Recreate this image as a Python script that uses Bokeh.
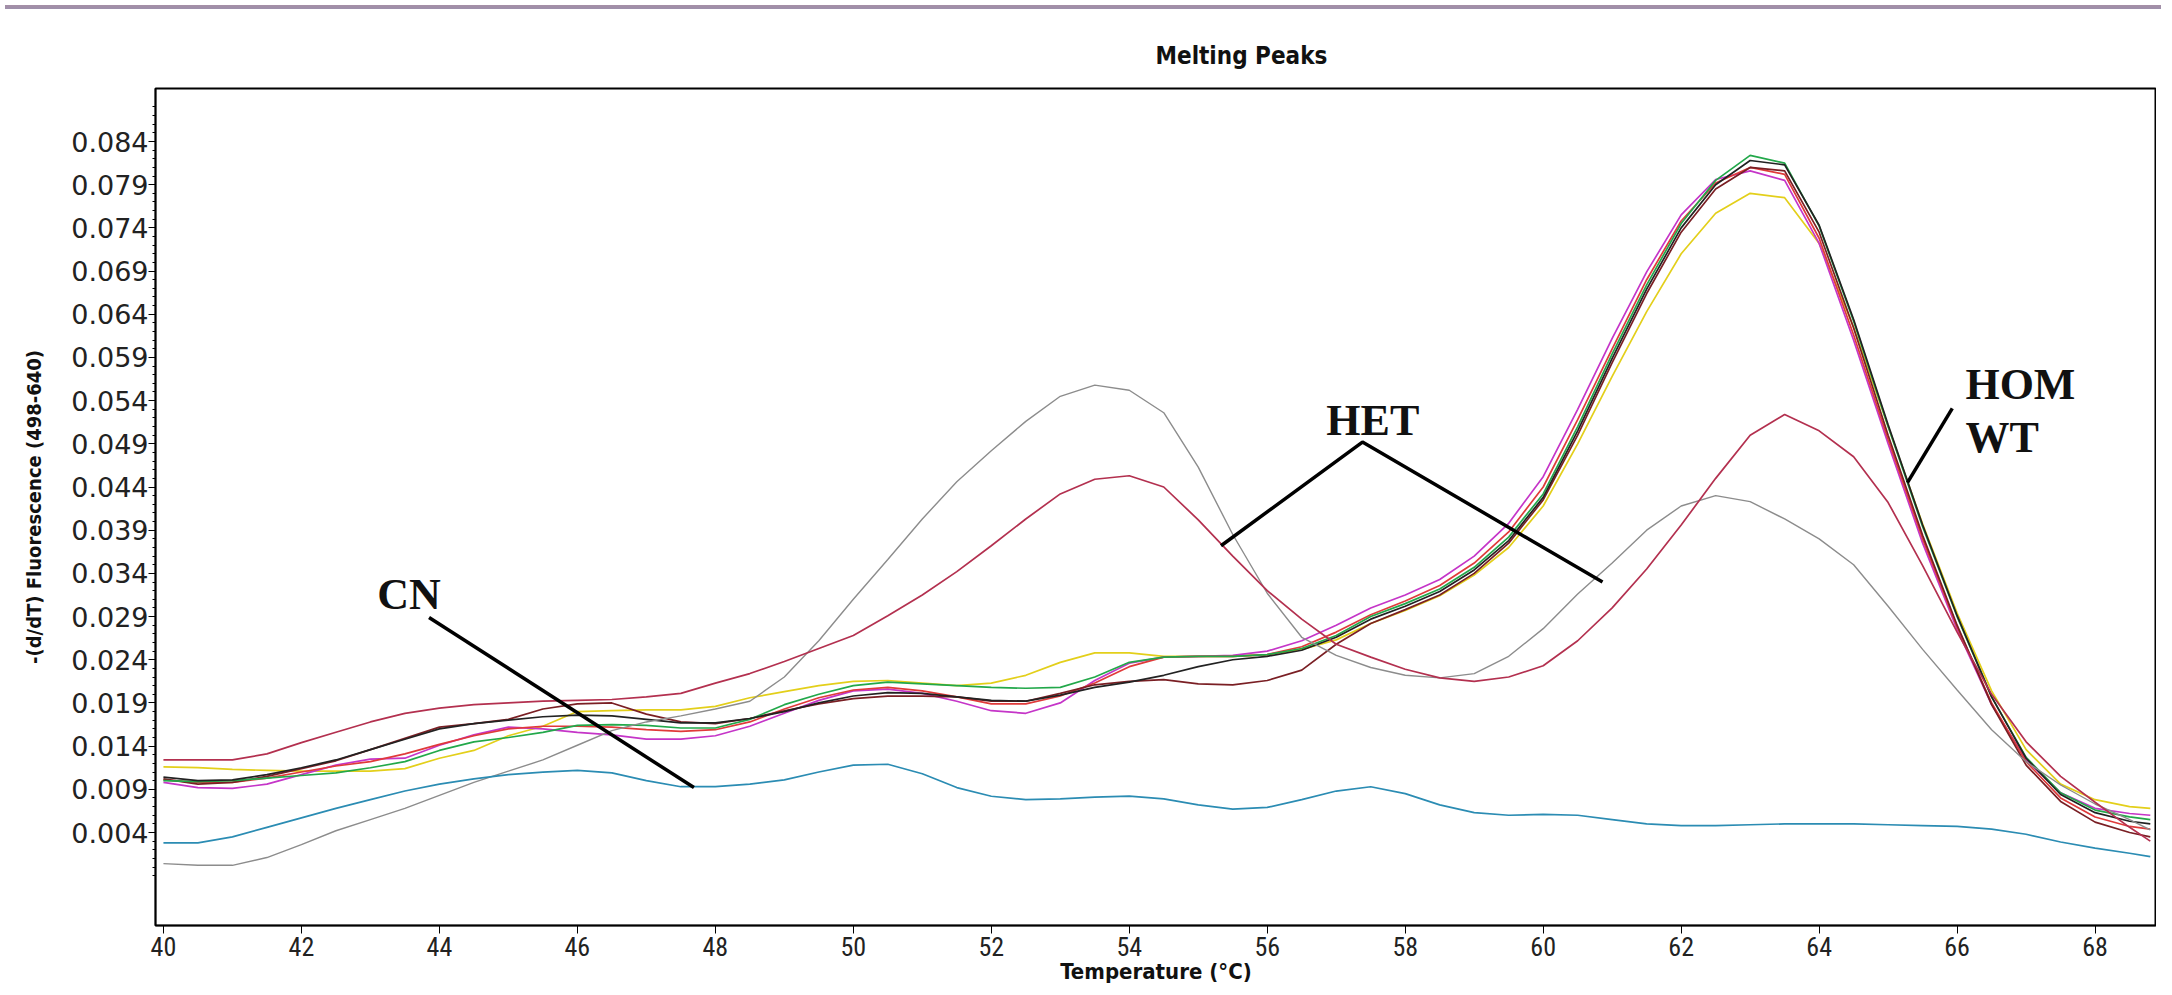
from bokeh.plotting import figure
from bokeh.models import FixedTicker, PrintfTickFormatter, Label, Range1d, Div, Title
from bokeh.layouts import column
from bokeh.embed import file_html
from bokeh.resources import INLINE

temps = [40.0, 40.5, 41.0, 41.5, 42.0, 42.5, 43.0, 43.5, 44.0, 44.5, 45.0, 45.5,
         46.0, 46.5, 47.0, 47.5, 48.0, 48.5, 49.0, 49.5, 50.0, 50.5, 51.0, 51.5,
         52.0, 52.5, 53.0, 53.5, 54.0, 54.5, 55.0, 55.5, 56.0, 56.5, 57.0, 57.5,
         58.0, 58.5, 59.0, 59.5, 60.0, 60.5, 61.0, 61.5, 62.0, 62.5, 63.0, 63.5,
         64.0, 64.5, 65.0, 65.5, 66.0, 66.5, 67.0, 67.5, 68.0, 68.5, 68.8]

cn_teal = [.0028, .0028, .0035, .0046, .0057, .0068, .0078, .0088, .0096, .0102, .0107, .0110,
           .0112, .0109, .0100, .0093, .0093, .0096, .0101, .0110, .0118, .0119, .0108, .0092,
           .0082, .0078, .0079, .0081, .0082, .0079, .0072, .0067, .0069, .0078, .0088, .0093,
           .0085, .0072, .0063, .0060, .0061, .0060, .0055, .0050, .0048, .0048, .0049, .0050,
           .0050, .0050, .0049, .0048, .0047, .0044, .0038, .0029, .0022, .0016, .0012]

het_gray = [.0004, .0002, .0002, .0011, .0026, .0042, .0055, .0068, .0083, .0098, .0111, .0124,
            .0141, .0158, .0168, .0175, .0183, .0192, .0220, .0262, .0310, .0356, .0403, .0446,
            .0482, .0516, .0545, .0558, .0552, .0526, .0463, .0385, .0317, .0266, .0245, .0231,
            .0222, .0219, .0224, .0244, .0276, .0316, .0352, .0390, .0418, .0430, .0423, .0403,
            .0380, .0350, .0302, .0252, .0205, .0159, .0122, .0095, .0073, .0055, .0043]

het_crimson = [.0124, .0124, .0124, .0131, .0144, .0156, .0168, .0178, .0184, .0188, .0190, .0192,
               .0193, .0194, .0197, .0201, .0213, .0224, .0238, .0253, .0268, .0291, .0315, .0342,
               .0372, .0403, .0432, .0449, .0453, .0440, .0402, .0360, .0320, .0287, .0258, .0243,
               .0229, .0219, .0215, .0220, .0233, .0262, .0300, .0345, .0396, .0450, .0500, .0524,
               .0505, .0475, .0422, .0349, .0272, .0200, .0145, .0105, .0075, .0046, .0030]

hom_green = [.0100, .0099, .0100, .0103, .0106, .0109, .0115, .0122, .0135, .0145, .0150, .0156,
             .0164, .0165, .0164, .0161, .0161, .0171, .0188, .0200, .0210, .0214, .0212, .0210,
             .0208, .0207, .0208, .0220, .0237, .0243, .0244, .0244, .0246, .0253, .0268, .0290,
             .0305, .0322, .0347, .0382, .0432, .0510, .0594, .0674, .0745, .0795, .0824, .0815,
             .0742, .0632, .0510, .0394, .0290, .0197, .0127, .0086, .0066, .0058, .0055]

hom_black = [.0104, .0100, .0101, .0107, .0115, .0124, .0136, .0148, .0160, .0166, .0170, .0174,
             .0176, .0175, .0171, .0167, .0167, .0172, .0180, .0190, .0198, .0202, .0201, .0197,
             .0193, .0192, .0199, .0208, .0214, .0222, .0232, .0240, .0244, .0251, .0266, .0287,
             .0302, .0319, .0344, .0378, .0428, .0505, .0589, .0669, .0740, .0790, .0818, .0813,
             .0743, .0634, .0512, .0396, .0291, .0197, .0126, .0084, .0063, .0053, .0050]

hom_maroon = [.0102, .0096, .0098, .0105, .0114, .0123, .0136, .0149, .0162, .0166, .0171, .0183,
              .0189, .0190, .0177, .0168, .0166, .0172, .0181, .0189, .0195, .0198, .0198, .0197,
              .0192, .0192, .0201, .0211, .0215, .0217, .0212, .0211, .0216, .0228, .0258, .0282,
              .0298, .0315, .0340, .0375, .0425, .0500, .0584, .0664, .0735, .0785, .0810, .0806,
              .0735, .0624, .0500, .0384, .0280, .0188, .0118, .0076, .0052, .0040, .0035]

hom_magenta = [.0098, .0092, .0091, .0096, .0107, .0118, .0125, .0126, .0141, .0153, .0162, .0160,
               .0156, .0153, .0148, .0148, .0152, .0163, .0178, .0193, .0204, .0206, .0201, .0192,
               .0181, .0178, .0190, .0216, .0236, .0243, .0244, .0245, .0250, .0262, .0280, .0300,
               .0315, .0333, .0360, .0398, .0452, .0530, .0612, .0689, .0755, .0796, .0806, .0795,
               .0722, .0610, .0490, .0375, .0275, .0188, .0124, .0086, .0068, .0062, .0060]

hom_red = [.0101, .0098, .0098, .0103, .0110, .0117, .0122, .0131, .0142, .0152, .0160, .0163,
           .0163, .0162, .0159, .0157, .0159, .0168, .0183, .0196, .0205, .0208, .0204, .0197,
           .0189, .0189, .0198, .0213, .0232, .0243, .0244, .0244, .0246, .0255, .0272, .0292,
           .0308, .0326, .0352, .0388, .0440, .0518, .0600, .0680, .0748, .0792, .0810, .0802,
           .0728, .0616, .0495, .0380, .0278, .0190, .0122, .0080, .0058, .0047, .0044]

hom_yellow = [.0116, .0115, .0113, .0112, .0111, .0111, .0111, .0114, .0126, .0135, .0152, .0163,
              .0180, .0181, .0182, .0182, .0186, .0196, .0203, .0210, .0215, .0216, .0213, .0210,
              .0213, .0222, .0237, .0248, .0248, .0244, .0244, .0244, .0246, .0252, .0263, .0282,
              .0297, .0314, .0338, .0370, .0418, .0490, .0568, .0643, .0710, .0757, .0780, .0775,
              .0722, .0625, .0510, .0397, .0294, .0204, .0136, .0096, .0078, .0070, .0068]

series = [
    (hom_yellow, "#e3cf1a", 1.7),
    (hom_magenta, "#c535c8", 1.7),
    (hom_red, "#e03a3a", 1.7),
    (hom_maroon, "#7a1f24", 1.7),
    (hom_green, "#22a84a", 1.7),
    (hom_black, "#222222", 1.7),
    (het_gray, "#8c8c8c", 1.4),
    (het_crimson, "#b3304f", 1.7),
    (cn_teal, "#2b8cb3", 1.7),
]

y_ticks = [0.004, 0.009, 0.014, 0.019, 0.024, 0.029, 0.034, 0.039, 0.044,
           0.049, 0.054, 0.059, 0.064, 0.069, 0.074, 0.079, 0.084]
x_ticks = [40, 42, 44, 46, 48, 50, 52, 54, 56, 58, 60, 62, 64, 66, 68]

W = 2156
BAND = 4
H = 979 - BAND
NARROW = "Liberation Sans Narrow, DejaVu Sans Condensed, sans-serif"

# page geometry: frame top 86, frame bottom 923; 0.084 at y=139, 0.004 at y=830
PX_PER_UNIT = (830 - 139) / 0.080
y_top = 0.084 + (139 - 86) / PX_PER_UNIT
y_bot = 0.004 - (923 - 830) / PX_PER_UNIT

p = figure(width=W, height=H, output_backend="svg", toolbar_location=None, title=None,
           x_range=Range1d(39.885, 68.89), y_range=Range1d(y_bot, y_top),
           min_border_left=155, min_border_right=0, min_border_top=86 - 8 - BAND,
           min_border_bottom=987 - 923)
p.background_fill_color = "white"
p.border_fill_color = "white"
p.outline_line_color = "black"
p.outline_line_width = 2
p.xgrid.visible = False
p.ygrid.visible = False

# spacer keeps the title a little higher above the frame
p.add_layout(Title(text=" ", text_font_size="11px", standoff=0), "above")
p.add_layout(Title(text="Melting Peaks", align="left", offset=1000,
                   text_font=NARROW, text_font_style="bold", text_font_size="24px",
                   text_color="#111111"), "above")

for ys, col, lw in series:
    p.line(temps, ys, line_color=col, line_width=lw)

# axes
p.yaxis.ticker = FixedTicker(ticks=y_ticks,
                             minor_ticks=[round(-0.001 + 0.001 * i, 3) for i in range(90)])
p.yaxis.formatter = PrintfTickFormatter(format="%.3f")
p.yaxis.major_tick_out = 7
p.yaxis.major_tick_in = 0
p.yaxis.minor_tick_out = 3
p.yaxis.minor_tick_in = 0
p.yaxis.axis_line_width = 1.5
p.yaxis.major_label_text_font = "DejaVu Sans"
p.yaxis.major_label_text_font_size = "27px"
p.yaxis.major_label_text_color = "#222222"
p.yaxis.major_label_standoff = 0
p.yaxis.axis_label = "-(d/dT) Fluorescence (498-640)"
p.yaxis.axis_label_text_font = NARROW
p.yaxis.axis_label_text_font_style = "bold"
p.yaxis.axis_label_text_font_size = "20px"
p.yaxis.axis_label_text_color = "#111111"
p.yaxis.axis_label_standoff = 22

p.xaxis.ticker = FixedTicker(ticks=x_ticks, minor_ticks=[])
p.xaxis.major_tick_out = 8
p.xaxis.major_tick_in = 0
p.xaxis.axis_line_width = 1.5
p.xaxis.major_label_text_font = "Liberation Sans Narrow, Roboto Condensed, DejaVu Sans Condensed, sans-serif"
p.xaxis.major_label_text_font_size = "26px"
p.xaxis.major_label_text_color = "#222222"
p.xaxis.major_label_standoff = 3
p.xaxis.axis_label = "Temperature (°C)"
p.xaxis.axis_label_text_font = NARROW
p.xaxis.axis_label_text_font_style = "bold"
p.xaxis.axis_label_text_font_size = "22px"
p.xaxis.axis_label_text_color = "#111111"
p.xaxis.axis_label_standoff = 0

# annotations
ann_font = "Liberation Serif"
ann_size = "44px"
p.add_layout(Label(x=43.56, y=0.0316, text="CN", text_align="center", text_baseline="middle",
                   text_font=ann_font, text_font_style="bold", text_font_size=ann_size,
                   text_color="#111111"))
p.line([43.85, 47.69], [0.0289, 0.0092], line_color="black", line_width=3.5)

p.add_layout(Label(x=57.53, y=0.0517, text="HET", text_align="center", text_baseline="middle",
                   text_font=ann_font, text_font_style="bold", text_font_size=ann_size,
                   text_color="#111111"))
p.line([55.33, 57.38, 60.86], [0.0372, 0.0492, 0.0330], line_color="black", line_width=3.5)

p.add_layout(Label(x=66.12, y=0.0559, text="HOM", text_align="left", text_baseline="middle",
                   text_font=ann_font, text_font_style="bold", text_font_size=ann_size,
                   text_color="#111111"))
p.add_layout(Label(x=66.12, y=0.0497, text="WT", text_align="left", text_baseline="middle",
                   text_font=ann_font, text_font_style="bold", text_font_size=ann_size,
                   text_color="#111111"))
p.line([65.93, 65.28], [0.0531, 0.0445], line_color="black", line_width=3.5)

band = Div(text="", width=W, height=BAND,
           styles={"background": "linear-gradient(to bottom, #a58fa6, #9d8fab)"})

layout = column(band, p, spacing=0)
open("out.html", "w").write(file_html(layout, INLINE))
